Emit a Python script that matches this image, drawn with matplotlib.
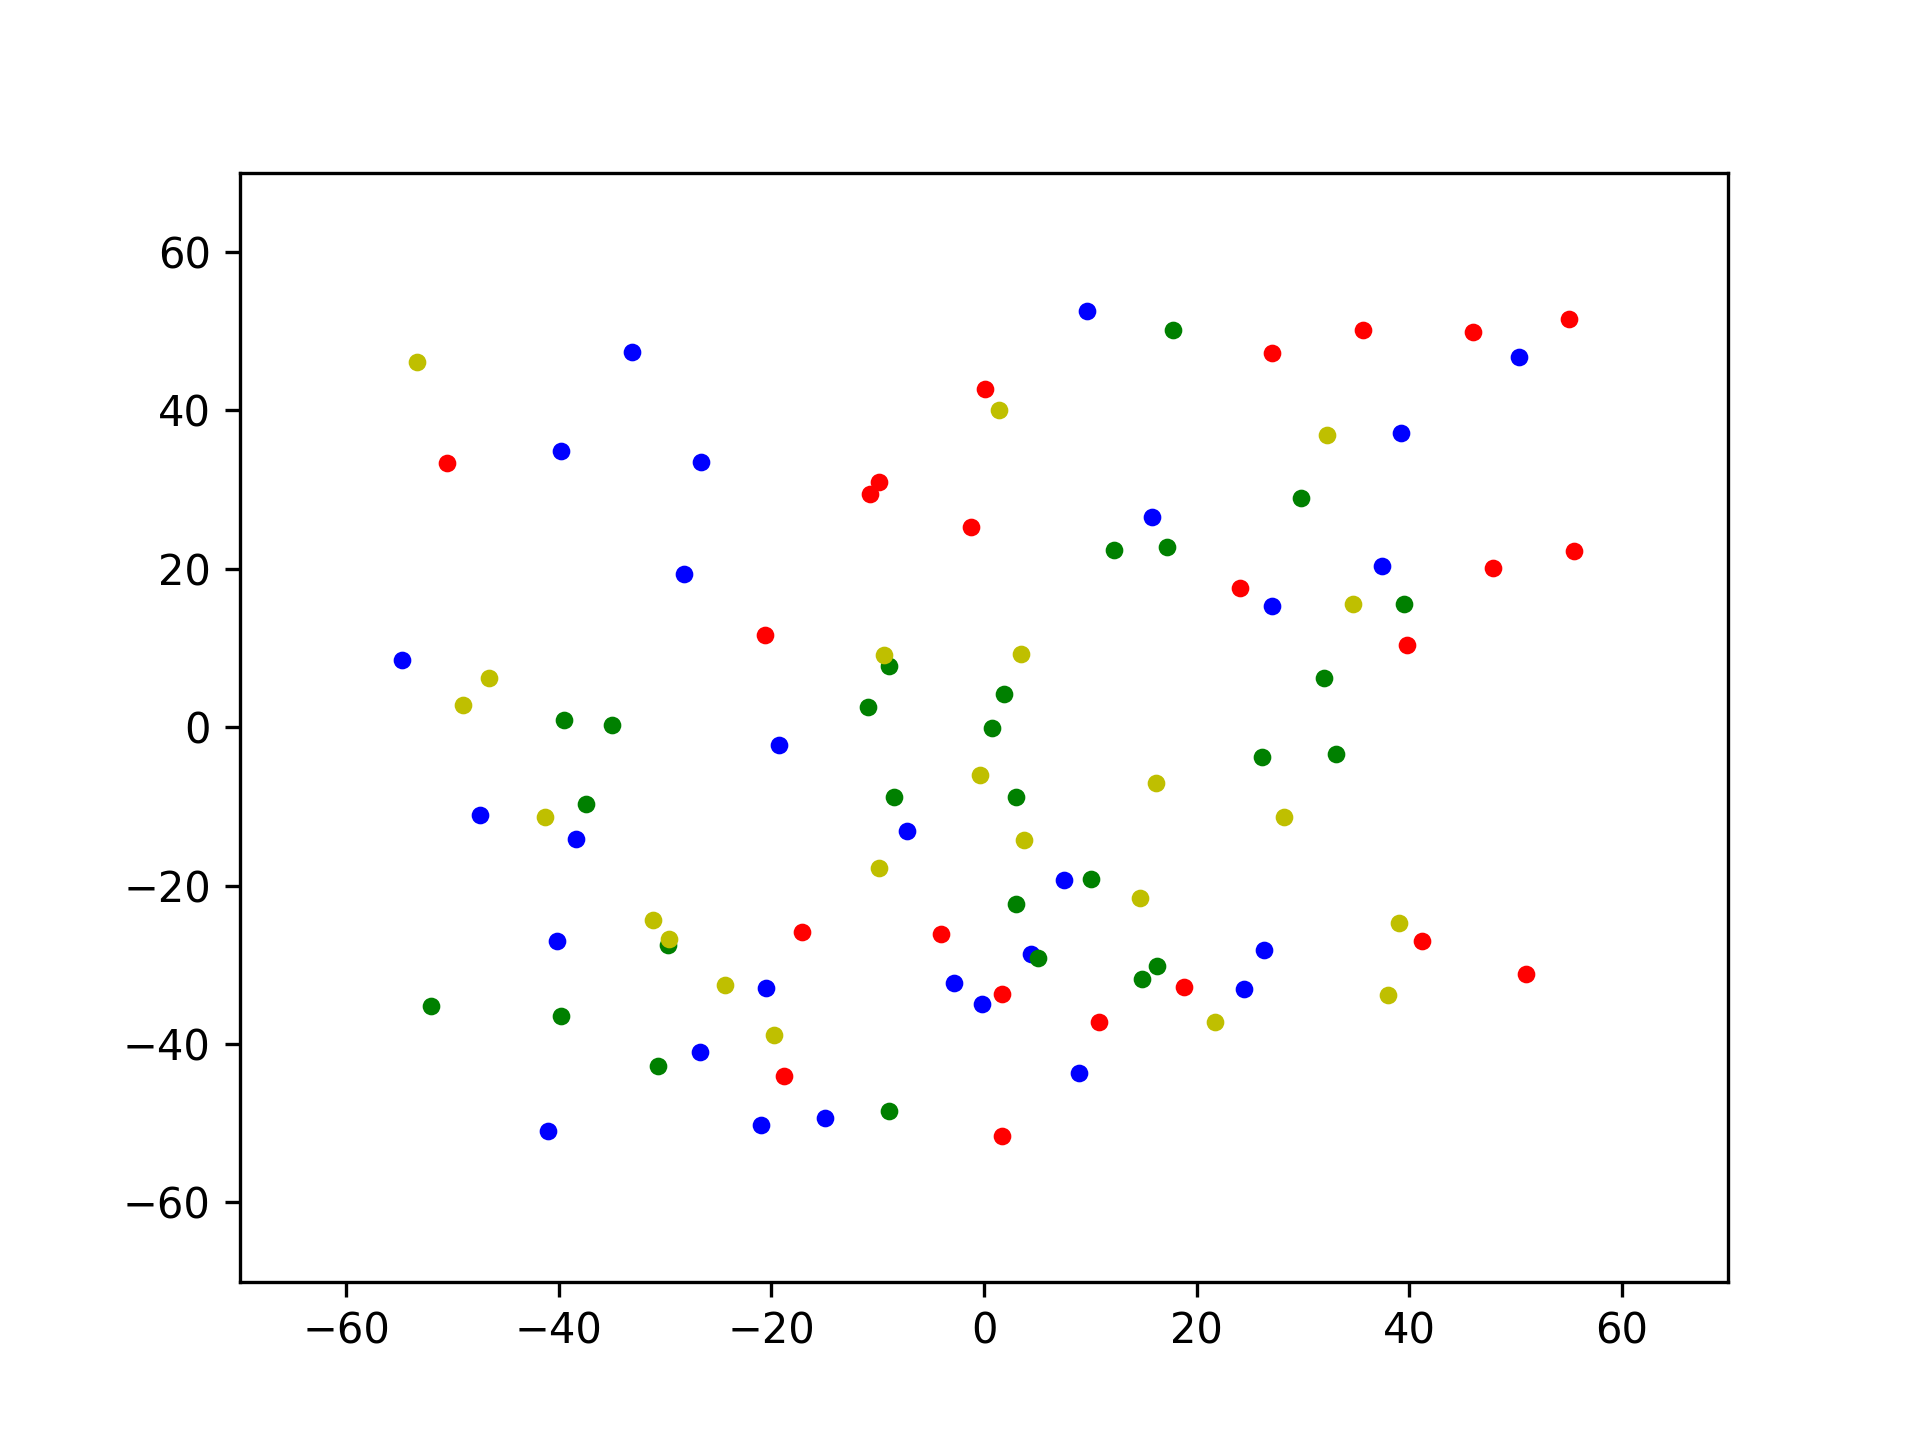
import matplotlib
matplotlib.use("Agg")
import matplotlib.pyplot as plt

blue_x = [9.7, -33.1, 50.3, -39.8, -26.6, 39.2, 15.8, -28.2, 37.4, 27.1, -54.8, -19.3, -47.4, -38.4,
          -7.2, 7.5, -40.2, 4.4, 26.3, -2.8, -20.5, 24.5, -0.2, -26.7, 8.9, -41.0, -21.0, -15.0]
blue_y = [52.5, 47.4, 46.7, 34.9, 33.5, 37.2, 26.6, 19.3, 20.4, 15.3, 8.5, -2.3, -11.1, -14.1,
          -13.1, -19.3, -27.0, -28.6, -28.1, -32.3, -32.9, -33.1, -34.9, -41.0, -43.7, -51.0, -50.2, -49.3]

green_x = [17.8, 29.8, 12.2, 17.2, 39.5, -8.9, 32.0, 1.9, -10.9, -39.5, -35.0, 0.75, 26.2, 33.1,
           -37.4, -8.5, 3.05, 10.1, 3.05, -29.7, 5.1, 16.3, 14.9, -52.0, -39.8, -30.7, -8.9]
green_y = [50.1, 28.9, 22.4, 22.7, 15.6, 7.7, 6.2, 4.2, 2.5, 0.9, 0.3, -0.15, -3.7, -3.4,
           -9.7, -8.8, -8.8, -19.2, -22.3, -27.5, -29.1, -30.1, -31.8, -35.2, -36.5, -42.8, -48.5]

red_x = [55.0, 35.7, 46.0, 27.1, 0.1, -50.5, -9.9, -10.7, -1.2, 55.5, 47.9, 24.1, 39.8, -20.6,
         -17.1, -4.0, 41.2, 51.0, 18.8, 1.7, 10.8, -18.8, 1.7]
red_y = [51.5, 50.1, 49.9, 47.3, 42.7, 33.4, 30.9, 29.5, 25.3, 22.3, 20.1, 17.6, 10.4, 11.6,
         -25.8, -26.1, -27.0, -31.1, -32.8, -33.7, -37.2, -44.0, -51.6]

yellow_x = [-53.3, 1.44, 32.3, 34.7, -9.4, 3.5, -46.6, -49.0, -0.4, 16.2, -41.3, 28.2, 3.8, -9.9,
            14.7, -31.1, -29.6, 39.0, -24.4, 38.0, 21.7, -19.8]
yellow_y = [46.1, 40.0, 36.9, 15.5, 9.1, 9.3, 6.2, 2.8, -6.0, -7.0, -11.4, -11.3, -14.2, -17.8,
            -21.6, -24.4, -26.7, -24.7, -32.5, -33.8, -37.2, -38.9]

fig, ax = plt.subplots(figsize=(6.4, 4.8), dpi=300)
for xs, ys, col in [(blue_x, blue_y, 'b'), (green_x, green_y, 'g'),
                    (red_x, red_y, 'r'), (yellow_x, yellow_y, 'y')]:
    ax.scatter(xs, ys, c=col, s=18, linewidths=0)
ax.set_xlim(-70, 70)
ax.set_ylim(-70, 70)
fig.savefig("out.png", dpi=300)
